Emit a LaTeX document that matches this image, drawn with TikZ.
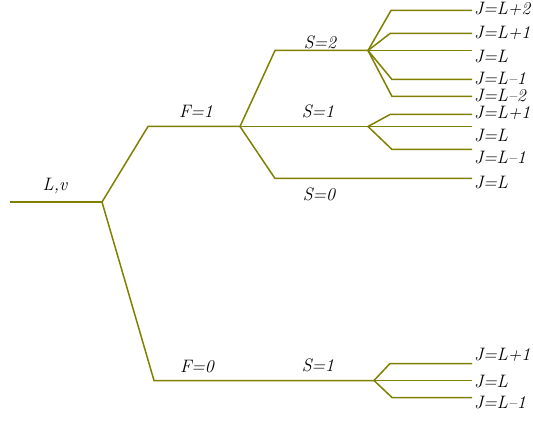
\documentclass[tikz,border=0pt]{standalone}
\usepackage{tikz}
\definecolor{olivine}{RGB}{128,128,0}
\tikzset{level/.style={draw=olivine, line width=1.5pt},
         lbl/.style={font=\fontsize{18}{18}\selectfont\itshape, inner sep=0pt},
         jlbl/.style={lbl, anchor=west}}

\begin{document}
\begin{tikzpicture}[x=1pt,y=-1pt]
            \useasboundingbox (0,0) rectangle (533,422);
            % levels
            \coordinate (Lstart) at (10,202);
            \coordinate (Lend) at (102,202);
            \coordinate (F1a) at (148,126.5);
            \coordinate (F1b) at (240,126.5);
            \coordinate (F0a) at (154,380.5);
            \coordinate (F0b) at (374,380.5);
            \coordinate (S2a) at (275,50.5);
            \coordinate (S2b) at (368,50.5);
            \coordinate (S1b) at (368,126.5);
            \coordinate (S0a) at (275,178.5);
            \coordinate (S0b) at (472,178.5);
            \draw[level] (Lstart) -- (Lend);
            \draw[level] (Lend) -- (F1a) -- (F1b);
            \draw[level] (Lend) -- (F0a) -- (F0b);
            \draw[level] (F1b) -- (S2a) -- (S2b);
            \draw[level] (F1b) -- (S1b);
            \draw[level] (F1b) -- (S0a) -- (S0b);
            % J splitting
            \draw[level] (S2b) -- (391,10.5) -- (472,10.5);
            \draw[level] (S2b) -- (390,33.5) -- (472,33.5);
            \draw[level] (S2b) -- (472,50.5);
            \draw[level] (S2b) -- (392,79.5) -- (472,79.5);
            \draw[level] (S2b) -- (392,96.5) -- (472,96.5);
            \draw[level] (S1b) -- (390,114.5) -- (472,114.5);
            \draw[level] (S1b) -- (472,126.5);
            \draw[level] (S1b) -- (392,149.5) -- (472,149.5);
            \draw[level] (F0b) -- (390,363.5) -- (472,363.5);
            \draw[level] (F0b) -- (472,380.5);
            \draw[level] (F0b) -- (392,397.5) -- (472,397.5);
            % labels
            \node[lbl] (Lv) at (55,186) {L,v};
            \node[lbl] (F1) at (196,111) {F=1};
            \node[lbl] (F0) at (197,367) {F=0};
            \node[lbl] (S2) at (320,42) {S=2};
            \node[lbl] (S1) at (318,111) {S=1};
            \node[lbl] (S0) at (319,194) {S=0};
            \node[lbl] (S1z) at (318,365) {S=1};
            \node[jlbl] (Ja) at (474,9) {J=L+2};
            \node[jlbl] (Jb) at (474,33) {J=L+1};
            \node[jlbl] (Jc) at (474,57) {J=L};
            \node[jlbl] (Jd) at (474,79) {J=L--1};
            \node[jlbl] (Je) at (474,96) {J=L--2};
            \node[jlbl] (Jf) at (474,113) {J=L+1};
            \node[jlbl] (Jg) at (474,136) {J=L};
            \node[jlbl] (Jh) at (474,158) {J=L--1};
            \node[jlbl] (Ji) at (474,183) {J=L};
            \node[jlbl] (Jj) at (474,355) {J=L+1};
            \node[jlbl] (Jk) at (474,382) {J=L};
            \node[jlbl] (Jl) at (474,403) {J=L--1};
        \end{tikzpicture}
\end{document}
